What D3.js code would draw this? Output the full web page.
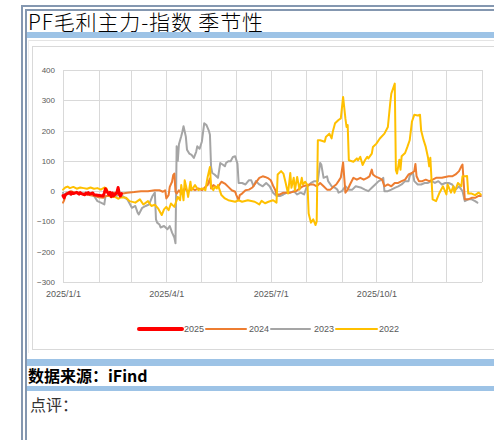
<!DOCTYPE html>
<html>
<head>
<meta charset="utf-8">
<script src="https://cdn.jsdelivr.net/npm/d3@7/dist/d3.min.js"></script>
<style>
  html, body { margin: 0; padding: 0; background: #fff; }
  svg { display: block; }
</style>
</head>
<body>
<div id="chart"></div>
<script>
// PF 毛利（主力-指数）季节性：各年度序列映射到同一自然年日期轴
const seriesNames = ["2025", "2024", "2023", "2022"];
const seriesColors = ["#ff0000", "#ed7d31", "#a5a5a5", "#ffc000"];
const yTicks = [-300, -200, -100, 0, 100, 200, 300, 400];
const xTickLabels = ["2025/1/1", "2025/4/1", "2025/7/1", "2025/10/1"];

const s2025 = [
  ["01-01",-15],["01-02",-22],["01-03",-12],["01-06",-6],["01-07",-4],["01-08",-10],["01-09",-5],
  ["01-10",-8],["01-13",-4],["01-14",-7],["01-15",-10],["01-16",-5],["01-17",-8],["01-20",-12],
  ["01-21",-6],["01-22",-9],["01-23",-5],["01-24",-10],["01-27",-6],["01-28",-12],["02-05",-16],
  ["02-06",-6],["02-07",8],["02-10",-12],["02-11",-4],["02-12",-18],["02-13",-6],["02-14",-16],
  ["02-17",-4],["02-18",12],["02-19",-8],["02-20",-16],["02-21",-8]
];

const s2024 = [
  ["01-01",-38],["01-02",-30],["01-03",-16],["01-05",-5],["01-08",0],["01-11",-5],["01-15",-5],
  ["01-18",-10],["01-22",-11],["01-25",-14],["01-29",-16],["02-01",-20],["02-05",-22],["02-08",-16],
  ["02-12",-16],["02-15",-5],["02-18",-11],["02-22",-8],["02-26",-5],["03-04",-3],["03-10",0],
  ["03-16",0],["03-22",3],["03-26",3],["03-29",-2],["03-31",3],["04-01",-24],["04-03",-13],
  ["04-04",14],["04-06",31],["04-07",53],["04-08",58],["04-09",-2],["04-10",-8],["04-12",3],
  ["04-14",-8],["04-17",9],["04-20",-2],["04-23",9],["04-26",3],["04-29",9],["05-02",3],
  ["05-05",14],["05-07",20],["05-09",42],["05-10",9],["05-12",20],["05-14",14],["05-16",14],
  ["05-19",31],["05-22",25],["05-25",14],["05-28",3],["05-31",-2],["06-01",-13],["06-03",-30],
  ["06-04",-13],["06-06",-8],["06-09",3],["06-12",5],["06-15",12],["06-18",28],["06-21",44],
  ["06-24",49],["06-26",47],["06-29",42],["07-01",36],["07-03",18],["07-05",3],["07-06",-11],
  ["07-09",-11],["07-12",-5],["07-17",-5],["07-23",0],["07-29",16],["08-04",22],["08-07",22],
  ["08-10",16],["08-13",27],["08-16",16],["08-19",5],["08-22",5],["08-25",16],["08-27",22],
  ["08-29",33],["08-31",45],["09-02",95],["09-04",-5],["09-06",5],["09-08",22],["09-11",44],
  ["09-14",38],["09-17",44],["09-20",38],["09-23",44],["09-25",49],["09-27",71],["09-28",55],
  ["09-30",49],["10-03",44],["10-06",38],["10-08",16],["10-11",22],["10-14",16],["10-17",27],
  ["10-20",27],["10-23",33],["10-26",38],["10-29",55],["11-01",60],["11-03",66],["11-04",90],
  ["11-05",49],["11-07",33],["11-10",33],["11-13",38],["11-16",33],["11-19",38],["11-22",44],
  ["11-27",44],["12-03",49],["12-06",49],["12-09",55],["12-12",66],["12-14",82],["12-15",88],
  ["12-16",33],["12-17",-27],["12-20",-27],["12-23",-22],["12-26",-22],["12-29",-16],["12-31",-16]
];

const s2023 = [
  ["01-01",-5],["01-02",-16],["01-04",-5],["01-07",-11],["01-13",-5],["01-19",-8],["01-23",-5],
  ["01-28",-16],["01-31",-33],["02-03",-38],["02-06",-44],["02-07",-16],["02-10",-16],["02-13",-11],
  ["02-16",-16],["02-20",-11],["02-26",-27],["03-02",-55],["03-05",-49],["03-07",-71],["03-08",-77],
  ["03-11",-55],["03-14",-49],["03-17",-44],["03-20",-16],["03-22",-5],["03-23",-93],["03-24",-104],
  ["03-26",-110],["03-27",-120],["03-30",-115],["04-02",-126],["04-04",-115],["04-06",-137],
  ["04-08",-153],["04-09",-172],["04-10",148],["04-11",100],["04-12",155],["04-14",181],["04-15",196],
  ["04-16",214],["04-18",180],["04-19",137],["04-21",124],["04-23",120],["04-25",110],["04-27",130],
  ["04-28",148],["04-30",140],["05-02",164],["05-04",224],["05-06",218],["05-08",200],["05-09",186],
  ["05-10",80],["05-11",60],["05-13",55],["05-16",44],["05-18",93],["05-20",88],["05-22",82],
  ["05-23",93],["05-25",99],["05-27",99],["05-29",113],["05-31",115],["06-02",90],["06-03",27],
  ["06-06",27],["06-09",22],["06-12",36],["06-14",36],["06-16",16],["06-18",33],["06-21",22],
  ["06-24",16],["06-27",27],["06-30",16],["07-03",-5],["07-06",-16],["07-09",-16],["07-12",-11],
  ["07-15",-5],["07-18",-5],["07-21",0],["07-24",-11],["07-27",-5],["07-30",-11],["08-01",11],
  ["08-05",27],["08-08",33],["08-11",33],["08-13",93],["08-14",88],["08-16",44],["08-19",49],
  ["08-20",33],["08-23",16],["08-26",11],["08-28",5],["08-29",-5],["09-01",0],["09-04",16],
  ["09-07",5],["09-10",5],["09-13",16],["09-18",11],["09-21",5],["09-24",0],["09-27",11],
  ["09-30",22],["10-03",33],["10-06",38],["10-07",44],["10-08",0],["10-11",0],["10-14",5],
  ["10-17",11],["10-20",16],["10-23",22],["10-26",33],["10-29",33],["10-30",49],["11-01",60],
  ["11-02",58],["11-03",33],["11-06",22],["11-09",22],["11-12",27],["11-15",27],["11-18",33],
  ["11-21",27],["11-24",33],["11-27",22],["11-30",27],["12-03",27],["12-06",22],["12-09",5],
  ["12-12",16],["12-15",0],["12-17",-33],["12-20",-27],["12-23",-27],["12-26",-33],["12-28",-38]
];

const s2022 = [
  ["01-01",5],["01-03",12],["01-05",15],["01-07",10],["01-10",14],["01-13",8],["01-16",12],
  ["01-19",10],["01-22",8],["01-25",12],["01-28",8],["01-31",10],["02-03",5],["02-06",12],
  ["02-08",8],["02-10",-15],["02-12",-20],["02-15",-18],["02-18",-25],["02-21",-20],["02-25",-22],
  ["02-28",-33],["03-05",-38],["03-09",-27],["03-12",-44],["03-16",-33],["03-19",-49],["03-22",-45],
  ["03-25",-58],["03-28",-79],["03-30",-60],["04-01",-52],["04-03",-63],["04-05",-41],["04-08",-52],
  ["04-11",-19],["04-13",-30],["04-14",20],["04-16",-30],["04-17",36],["04-19",3],["04-20",-19],
  ["04-22",31],["04-23",3],["04-26",20],["04-29",3],["05-02",9],["05-05",3],["05-07",47],
  ["05-09",80],["05-10",14],["05-12",3],["05-13",14],["05-15",9],["05-16",20],["05-19",-13],
  ["05-22",-24],["05-25",-30],["05-31",-35],["06-03",-30],["06-06",-35],["06-11",-30],["06-17",-35],
  ["06-21",-44],["06-23",-32],["06-26",-40],["06-29",-35],["07-03",-30],["07-06",-38],["07-07",55],
  ["07-10",66],["07-12",58],["07-14",27],["07-16",-8],["07-18",60],["07-19",11],["07-21",44],
  ["07-22",3],["07-24",47],["07-26",5],["07-28",44],["07-29",22],["07-31",31],["08-02",20],
  ["08-03",-74],["08-05",-104],["08-07",-93],["08-09",-112],["08-10",-100],["08-11",168],
  ["08-13",168],["08-17",163],["08-18",179],["08-21",190],["08-23",174],["08-24",196],["08-26",224],
  ["08-29",235],["08-31",240],["09-02",311],["09-04",240],["09-05",212],["09-06",218],["09-07",102],
  ["09-11",97],["09-14",108],["09-15",102],["09-17",113],["09-19",86],["09-21",102],["09-23",113],
  ["09-24",108],["09-27",124],["09-28",146],["10-01",157],["10-04",174],["10-08",190],["10-11",212],
  ["10-13",289],["10-14",322],["10-17",355],["10-18",69],["10-19",58],["10-21",104],["10-22",71],
  ["10-23",115],["10-26",126],["10-28",146],["10-30",168],["11-01",230],["11-03",252],["11-06",250],
  ["11-08",252],["11-09",200],["11-11",170],["11-13",146],["11-15",110],["11-16",82],["11-17",110],
  ["11-18",40],["11-19",-27],["11-22",-33],["11-25",-5],["11-28",16],["12-01",-11],["12-02",22],
  ["12-05",-5],["12-07",16],["12-08",-5],["12-11",27],["12-14",16],["12-15",49],["12-18",49],
  ["12-19",50],["12-20",-8],["12-23",-8],["12-26",-13],["12-29",-5],["12-31",-11]
];

const seriesData = [s2025, s2024, s2023, s2022];

const W = 494, H = 440;
const svg = d3.select("#chart").append("svg").attr("width", W).attr("height", H);

// page frame: double slate border on top and left
const frame = "#8497b0";
svg.append("rect").attr("x", 21).attr("y", 5).attr("width", W - 21).attr("height", 2).attr("fill", frame);
svg.append("rect").attr("x", 25).attr("y", 9).attr("width", W - 25).attr("height", 2).attr("fill", frame);
svg.append("rect").attr("x", 21).attr("y", 5).attr("width", 2).attr("height", H - 5).attr("fill", frame);
svg.append("rect").attr("x", 25).attr("y", 9).attr("width", 2).attr("height", H - 9).attr("fill", frame);

// title
svg.append("text").attr("x", 28).attr("y", 30)
  .attr("font-family", "'Noto Sans CJK SC', sans-serif").attr("font-size", 21)
  .attr("font-weight", 300)
  .attr("textLength", 235).attr("lengthAdjust", "spacing")
  .attr("fill", "#000").text("PF毛利主力-指数 季节性");

// light blue separators
const band = "#9dc3e6";
svg.append("rect").attr("x", 27).attr("y", 32).attr("width", W - 27).attr("height", 6).attr("fill", band);
svg.append("rect").attr("x", 27).attr("y", 359).attr("width", W - 27).attr("height", 7).attr("fill", band);
svg.append("rect").attr("x", 27).attr("y", 386).attr("width", W - 27).attr("height", 5).attr("fill", band);

// chart container
svg.append("line").attr("x1", 28).attr("x2", W).attr("y1", 40.5).attr("y2", 40.5).attr("stroke", "#e4e4e4");
svg.append("line").attr("x1", 28.5).attr("x2", 28.5).attr("y1", 40).attr("y2", 353).attr("stroke", "#ededed");
svg.append("rect").attr("x", 32.5).attr("y", 46.5).attr("width", 470).attr("height", 303)
  .attr("fill", "#fff").attr("stroke", "#d9d9d9");

// scales
const parse = d3.timeParse("%Y-%m-%d");
const x = d3.scaleTime().domain([new Date(2025, 0, 1), new Date(2026, 0, 1)]).range([63, 482]);
const y = d3.scaleLinear().domain([-300, 400]).range([282, 70]);

const grid = svg.append("g");
// monthly vertical gridlines
grid.selectAll("line.v").data(d3.timeMonth.range(new Date(2025, 0, 1), new Date(2026, 0, 2)))
  .join("line").attr("class", "v")
  .attr("x1", d => Math.round(x(d)) + 0.5).attr("x2", d => Math.round(x(d)) + 0.5)
  .attr("y1", y(400)).attr("y2", y(-300))
  .attr("stroke", "#d9d9d9").attr("stroke-width", 1);
// horizontal gridlines
grid.selectAll("line.h").data(yTicks).join("line").attr("class", "h")
  .attr("x1", 63).attr("x2", 482)
  .attr("y1", d => Math.round(y(d)) + 0.5).attr("y2", d => Math.round(y(d)) + 0.5)
  .attr("stroke", "#d9d9d9").attr("stroke-width", 1);

// y axis labels
const yAxis = d3.axisLeft(y).tickValues(yTicks).tickSize(0).tickPadding(8);
const gy = svg.append("g").attr("transform", "translate(63,0)").call(yAxis);
gy.select(".domain").remove();
gy.selectAll("text").attr("font-family", "'Liberation Sans', Arial, sans-serif")
  .attr("font-size", 8).attr("fill", "#595959");

// x axis labels (quarterly)
const xTickDates = xTickLabels.map(s => d3.timeParse("%Y/%m/%d")(s));
const xAxis = d3.axisBottom(x).tickValues(xTickDates).tickSize(0).tickPadding(9)
  .tickFormat((d, i) => xTickLabels[i]);
const gx = svg.append("g").attr("transform", `translate(0,${y(-300)})`).call(xAxis);
gx.select(".domain").remove();
gx.selectAll("text").attr("font-family", "'Liberation Sans', Arial, sans-serif")
  .attr("font-size", 9).attr("fill", "#595959");

// series lines
const line = d3.line()
  .x(d => x(parse("2025-" + d[0])))
  .y(d => y(d[1]));

const drawOrder = [2, 1, 3, 0];
svg.append("g").selectAll("path").data(drawOrder).join("path")
  .attr("d", i => line(seriesData[i]))
  .attr("fill", "none")
  .attr("stroke", i => seriesColors[i])
  .attr("stroke-width", i => i === 0 ? 3 : 2)
  .attr("stroke-linejoin", "round")
  .attr("stroke-linecap", "round");

// legend
const legendItems = [
  { x0: 139, x1: 182, tx: 184 },
  { x0: 206, x1: 246, tx: 249 },
  { x0: 271, x1: 310, tx: 314 },
  { x0: 336, x1: 377, tx: 379 }
];
const lg = svg.append("g");
legendItems.forEach((p, i) => {
  lg.append("line").attr("x1", p.x0).attr("x2", p.x1).attr("y1", 329).attr("y2", 329)
    .attr("stroke", seriesColors[i]).attr("stroke-width", i === 0 ? 4 : 2)
    .attr("stroke-linecap", "round");
  lg.append("text").attr("x", p.tx).attr("y", 332)
    .attr("font-family", "'Liberation Sans', Arial, sans-serif").attr("font-size", 9)
    .attr("fill", "#595959").text(seriesNames[i]);
});

// footer texts
svg.append("text").attr("x", 28).attr("y", 382)
  .attr("font-family", "'Noto Sans CJK SC', sans-serif").attr("font-size", 16)
  .attr("font-weight", "bold").attr("fill", "#000").text("数据来源：iFind");
svg.append("text").attr("x", 30).attr("y", 411)
  .attr("font-family", "'Noto Sans CJK SC', sans-serif").attr("font-size", 16)
  .attr("fill", "#333").text("点评：");
</script>
</body>
</html>
